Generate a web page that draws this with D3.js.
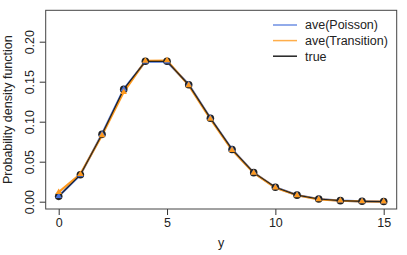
<!DOCTYPE html>
<html><head><meta charset="utf-8">
<script src="https://cdn.jsdelivr.net/npm/d3@7"></script>
<style>body{margin:0;background:#fff}svg{display:block}text{font-family:"Liberation Sans",Arial,sans-serif}</style>
</head><body><svg id="c" width="407" height="255"></svg>
<script>
const yVals = [0,1,2,3,4,5,6,7,8,9,10,11,12,13,14,15];
const trueVals = [0.0067,0.0337,0.0842,0.1404,0.1755,0.1755,0.1462,0.1044,0.0653,0.0363,0.0181,0.0082,0.0034,0.0013,0.0005,0.0002];
const poissonVals = [0.0068,0.0335,0.0845,0.1405,0.1752,0.1750,0.1465,0.1046,0.0655,0.0362,0.0180,0.0083,0.0034,0.0013,0.0005,0.0002];
const transitionVals = [0.0120,0.0345,0.0830,0.1370,0.1760,0.1765,0.1455,0.1035,0.0645,0.0360,0.0175,0.0080,0.0030,0.0012,0.0004,0.0002];
const xTicks = [0,5,10,15];
const yTicks = [0,0.05,0.10,0.15,0.20];
const legendLabels = ["ave(Poisson)","ave(Transition)","true"];
const colors = {poisson:"#4a74dc", transition:"#ff9a1e", true:"#222"};

const svg = d3.select("#c");
const L=45.7,R=396.7,T=10.3,B=209;
const x = d3.scaleLinear().domain([-0.6,15.6]).range([L,R]);
const y = d3.scaleLinear().domain([-0.009125,0.23925]).range([B,T]);

// axes
const yAxis = svg.append("g").attr("transform",`translate(${L},0)`)
  .call(d3.axisLeft(y).tickValues(yTicks).tickSize(6).tickFormat(d3.format(".2f")));
yAxis.select(".domain").remove();
yAxis.selectAll("line").attr("stroke","#333");
yAxis.selectAll("text").attr("x",0).attr("dy","0.35em")
  .attr("text-anchor","middle").attr("font-size",12.5).attr("fill","#222")
  .attr("transform",`translate(${30-L},0) rotate(-90)`);
const xAxis = svg.append("g").attr("transform",`translate(0,${B})`)
  .call(d3.axisBottom(x).tickValues(xTicks).tickSize(6));
xAxis.select(".domain").remove();
xAxis.selectAll("line").attr("stroke","#333");
xAxis.selectAll("text").attr("font-size",12.5).attr("fill","#222").attr("y",9).attr("dy","0.71em");

svg.append("rect").attr("x",L).attr("y",T).attr("width",R-L).attr("height",B-T)
  .attr("fill","none").attr("stroke","#444").attr("stroke-width",1);

svg.append("text").attr("x",(L+R)/2).attr("y",247).attr("text-anchor","middle").attr("font-size",12.5).attr("fill","#222").text("y");
svg.append("text").attr("transform",`translate(12,${(T+B)/2}) rotate(-90)`).attr("text-anchor","middle")
  .attr("font-size",12.5).attr("fill","#222").text("Probability density function");

const line = d3.line().x((d,i)=>x(yVals[i])).y(d=>y(d));
svg.append("path").datum(poissonVals).attr("d",line).attr("fill","none").attr("stroke",colors.poisson).attr("stroke-width",2.2);
svg.append("path").datum(transitionVals).attr("d",line).attr("fill","none").attr("stroke",colors.transition).attr("stroke-width",2.2);
svg.append("path").datum(trueVals).attr("d",line).attr("fill","none").attr("stroke",colors.true).attr("stroke-width",1.2);

svg.selectAll(".pt").data(trueVals).enter().append("circle")
  .attr("cx",(d,i)=>x(yVals[i])).attr("cy",d=>y(d)).attr("r",3.8).attr("fill","#222");
const tri = d3.symbol().type(d3.symbolTriangle).size(18);
svg.selectAll(".tp").data(poissonVals).enter().append("path").attr("d",tri)
  .attr("transform",(d,i)=>`translate(${x(yVals[i])},${y(d)})`).attr("fill",colors.poisson);
svg.selectAll(".tt").data(transitionVals).enter().append("path").attr("d",tri)
  .attr("transform",(d,i)=>`translate(${x(yVals[i])},${y(d)})`).attr("fill",colors.transition);

// legend
const legCols = [colors.poisson, colors.transition, colors.true];
const lg = svg.append("g");
legendLabels.forEach((t,i)=>{
  const yy = 25 + i*15.6;
  lg.append("line").attr("x1",273).attr("x2",297).attr("y1",yy).attr("y2",yy)
    .attr("stroke",legCols[i]).attr("stroke-width",1.5).attr("stroke-opacity", i<2?0.8:1);
  lg.append("text").attr("x",305).attr("y",yy).attr("dy","0.35em").attr("font-size",12.5).attr("fill","#222").text(t);
});
</script></body></html>
